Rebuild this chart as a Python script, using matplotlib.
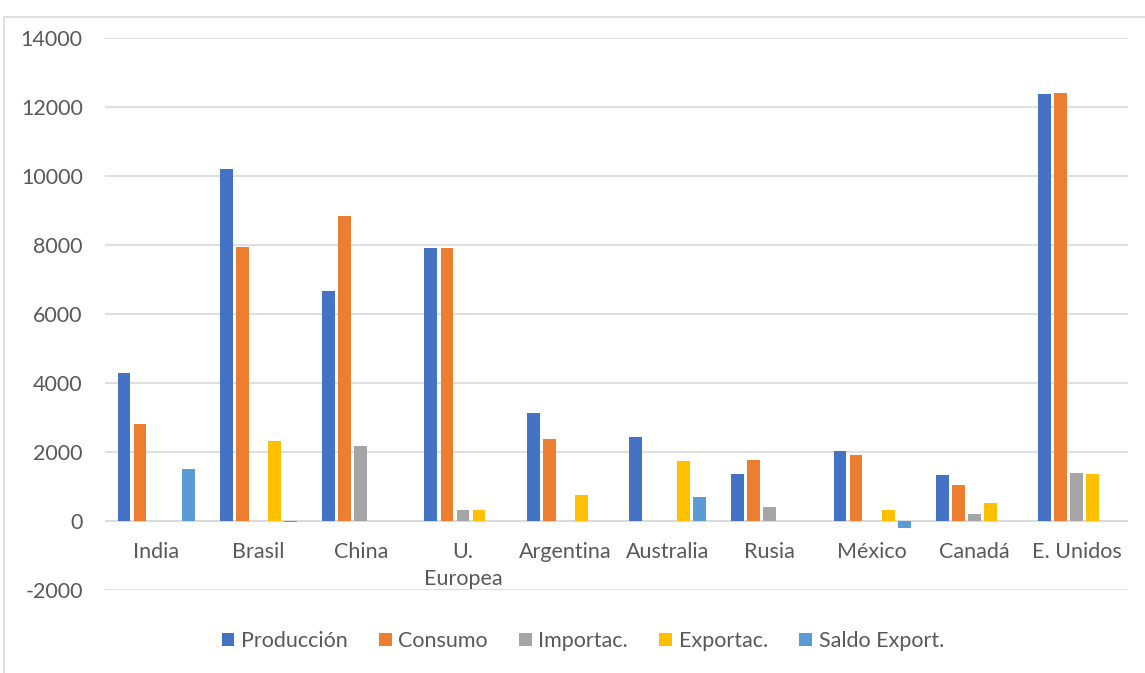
import numpy as np
import matplotlib
matplotlib.use('Agg')
import matplotlib.pyplot as plt
from matplotlib.patches import Rectangle

plt.rcParams['font.family'] = ['Lato', 'DejaVu Sans']
plt.rcParams['axes.unicode_minus'] = False

# datos
paises = ['India', 'Brasil', 'China', 'U.\nEuropea', 'Argentina', 'Australia',
          'Rusia', 'México', 'Canadá', 'E. Unidos']
produccion = [4300, 10200, 6660, 7900, 3120, 2430, 1360, 2040, 1330, 12380]
consumo = [2800, 7940, 8840, 7920, 2370, 0, 1760, 1900, 1030, 12420]
importac = [0, 0, 2180, 330, 0, 0, 400, 0, 200, 1380]
exportac = [0, 2310, 0, 320, 750, 1740, 0, 320, 520, 1370]
saldo = [1500, -40, 15, 0, 0, 700, 15, -200, 0, 0]

series = [
    ('Producción', produccion, '#4472C4'),
    ('Consumo', consumo, '#ED7D31'),
    ('Importac.', importac, '#A5A5A5'),
    ('Exportac.', exportac, '#FFC000'),
    ('Saldo Export.', saldo, '#5B9BD5'),
]

fig = plt.figure(figsize=(11.45, 6.73), dpi=100)
ax = fig.add_axes([0.0917, 0.1233, 0.8933, 0.8202])

x = np.arange(len(paises))
paso = 0.157
ancho = 0.125
for i, (nombre, vals, color) in enumerate(series):
    ax.bar(x + (i - 2) * paso, vals, width=ancho, color=color, label=nombre, zorder=3)

ax.set_xlim(-0.5, len(paises) - 0.5)
ax.set_ylim(-2000, 14000)
ax.set_yticks(range(-2000, 14001, 2000))
ax.grid(axis='y', color='#d9d9d9', linewidth=1.2, zorder=0)
ax.axhline(0, color='#d9d9d9', linewidth=1.2, zorder=1)
for s in ax.spines.values():
    s.set_visible(False)
ax.tick_params(axis='y', length=0, pad=16, labelsize=15.5, labelcolor='#595959')
ax.set_xticks([])

# etiquetas de paises debajo de la linea de cero
for xi, p in zip(x, paises):
    ax.text(xi, -600, p, ha='center', va='top', fontsize=15.5, color='#595959',
            linespacing=1.45)

handles, labels = ax.get_legend_handles_labels()
leg = fig.legend(handles, labels, loc='center', bbox_to_anchor=(0.509, 0.0475), ncol=5,
                 frameon=False, fontsize=15.5, handlelength=0.6, handleheight=0.6,
                 handletextpad=0.3, columnspacing=1.45)
for t in leg.get_texts():
    t.set_color('#595959')

fig.patches.append(Rectangle((0.0035, -0.01), 1.0, 0.985, transform=fig.transFigure,
                             fill=False, edgecolor='#d9d9d9', linewidth=1.2))

fig.savefig('out.png', dpi=100, facecolor='white')
